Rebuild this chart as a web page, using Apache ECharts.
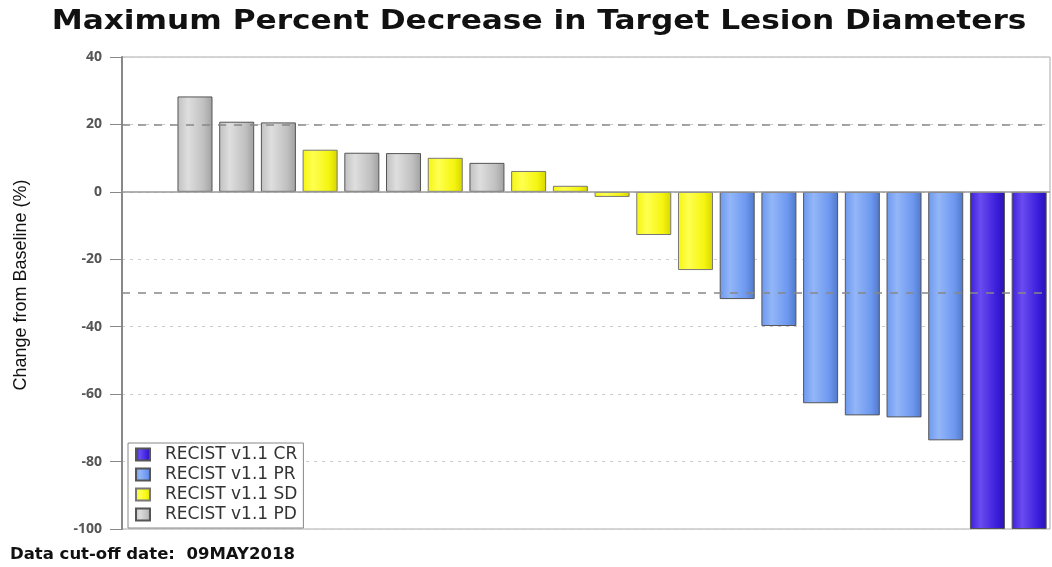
<!DOCTYPE html>
<html>
<head>
<meta charset="utf-8">
<script src="https://cdn.jsdelivr.net/npm/echarts@6/dist/echarts.min.js"></script>
<style>
  html, body { margin: 0; padding: 0; background: #fff; }
  #chart { width: 1052px; height: 567px; }
</style>
</head>
<body>
<div id="chart"></div>
<script>
// patient index along the x axis (1..21), one array per response group
const pdIdx = [1, 2, 3, 5, 6, 8]
const pdVal = [28.3, 20.8, 20.6, 11.6, 11.5, 8.6]
const sdIdx = [4, 7, 9, 10, 11, 12, 13]
const sdVal = [12.5, 10.1, 6.2, 1.8, -1.5, -12.8, -23.2]
const prIdx = [14, 15, 16, 17, 18, 19]
const prVal = [-31.8, -39.8, -62.7, -66.3, -66.9, -73.7]
const crIdx = [20, 21]
const crVal = [-100, -100]

const yTicks = [40, 20, 0, -20, -40, -60, -80, -100]
const refLines = [20, -30]

const pairs = (xs, ys) => xs.map((x, i) => [x, ys[i]])

const shade = (light, mid, dark) => ({
  type: 'linear', x: 0, y: 0, x2: 1, y2: 0,
  colorStops: [
    { offset: 0, color: mid },
    { offset: 0.3, color: light },
    { offset: 0.75, color: mid },
    { offset: 1, color: dark }
  ]
})

const barBase = {
  type: 'bar',
  barWidth: 35,
  barGap: '-100%'
}

const chart = echarts.init(document.getElementById('chart'))
chart.setOption({
  animation: false,
  graphic: [
    {
      type: 'text',
      x: 539,
      y: 9,
      scaleX: 1.2,
      style: {
        text: 'Maximum Percent Decrease in Target Lesion Diameters',
        font: 'bold 26px "DejaVu Sans"',
        fill: '#111',
        align: 'center',
        verticalAlign: 'top'
      }
    },
    {
      // y axis title
      type: 'text',
      x: 21,
      y: 285,
      rotation: Math.PI / 2,
      style: {
        text: 'Change from Baseline (%)',
        font: '18px "Liberation Sans"',
        fill: '#111',
        align: 'center',
        verticalAlign: 'middle'
      }
    },
    {
      type: 'text',
      x: 10,
      y: 546,
      style: {
        text: 'Data cut-off date:  09MAY2018',
        font: 'bold 16.5px "DejaVu Sans"',
        fill: '#111',
        verticalAlign: 'top'
      }
    }
  ],
  legend: {
    orient: 'vertical',
    left: 128,
    top: 443,
    itemWidth: 14,
    itemHeight: 12,
    itemGap: 3,
    padding: [3, 6, 5, 7],
    backgroundColor: '#fff',
    borderColor: '#888',
    borderWidth: 1,
    icon: 'rect',
    textStyle: { fontFamily: 'DejaVu Sans', fontSize: 17, lineHeight: 17, color: '#333', padding: [0, 0, 0, 10] },
    data: ['RECIST v1.1 CR', 'RECIST v1.1 PR', 'RECIST v1.1 SD', 'RECIST v1.1 PD']
  },
  grid: {
    left: 122, right: 2, top: 57, bottom: 38,
    show: true, borderColor: '#aaa', borderWidth: 1
  },
  xAxis: {
    type: 'value',
    min: -0.75,
    max: 21.5,
    axisLine: { show: false },
    axisTick: { show: false },
    axisLabel: { show: false },
    splitLine: { show: false }
  },
  yAxis: {
    type: 'value',
    min: -100,
    max: 40,
    interval: 20,
    axisLine: { show: true, onZero: false, lineStyle: { color: '#888', width: 2 } },
    axisTick: { show: true, length: 12, lineStyle: { color: '#888' } },
    axisLabel: {
      fontFamily: 'Open Sans', fontWeight: 'bold', fontSize: 14, color: '#555', margin: 20,
      formatter: v => yTicks.includes(v) ? String(v) : ''
    },
    splitLine: { show: true, lineStyle: { color: '#ccc', type: [3, 5] } }
  },
  series: [
    Object.assign({}, barBase, {
      name: 'RECIST v1.1 CR',
      color: '#3b1fdc',
      data: pairs(crIdx, crVal),
      itemStyle: { borderColor: '#555', borderWidth: 1, color: shade('#6a4cf0', '#3b1fdc', '#2a12b0') }
    }),
    Object.assign({}, barBase, {
      name: 'RECIST v1.1 PR',
      color: '#6d98f0',
      data: pairs(prIdx, prVal),
      itemStyle: { borderColor: '#555', borderWidth: 1, color: shade('#93b6f7', '#6d98f0', '#4f78c8') }
    }),
    Object.assign({}, barBase, {
      name: 'RECIST v1.1 SD',
      color: '#f5f510',
      data: pairs(sdIdx, sdVal),
      itemStyle: { borderColor: '#777', borderWidth: 1, color: shade('#ffff50', '#f5f510', '#d6d600') }
    }),
    Object.assign({}, barBase, {
      name: 'RECIST v1.1 PD',
      color: '#bdbdbd',
      data: pairs(pdIdx, pdVal),
      itemStyle: { borderColor: '#555', borderWidth: 1, color: shade('#dedede', '#c0c0c0', '#a0a0a0') },
      markLine: {
        silent: true,
        symbol: 'none',
        label: { show: false },
        lineStyle: { color: '#888', type: [8, 8], width: 1.5 },
        data: refLines.map(v => ({ yAxis: v }))
      }
    }),
    {
      type: 'line',
      silent: true,
      data: [],
      markLine: {
        silent: true,
        symbol: 'none',
        label: { show: false },
        lineStyle: { color: '#999', type: 'solid', width: 1.5 },
        data: [{ yAxis: 0 }]
      }
    }
  ]
})
</script>
</body>
</html>
